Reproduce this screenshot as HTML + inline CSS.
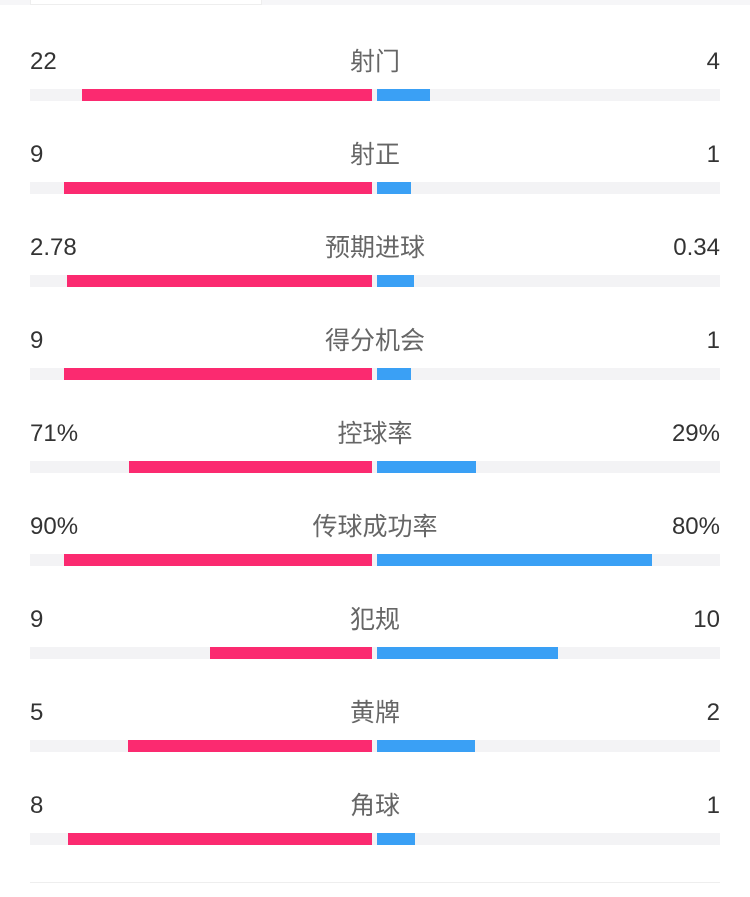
<!DOCTYPE html>
<html><head><meta charset="utf-8"><style>
body{margin:0;width:750px;height:897px;background:#fff;position:relative;overflow:hidden;font-family:"Liberation Sans","Noto Sans CJK SC",sans-serif}
.t{position:absolute;font-size:24px;line-height:26px}
.l{left:30px;color:#333}
.r{right:30px;color:#333;text-align:right}
.c{left:0;width:750px;text-align:center;color:#666;font-size:25px}
.trk{position:absolute;left:30px;width:690px;height:12px;background:#f3f3f5}
.p{position:absolute;height:12px;background:#fb2a70}
.b{position:absolute;height:12px;background:#3aa0f5}
</style></head><body>
<div style="position:absolute;left:0;top:0;width:750px;height:5px;background:#f6f6f8"></div>
<div style="position:absolute;left:30px;top:0;width:230px;height:4px;background:#fff;border:1px solid #eee;border-top:none"></div>
<div style="position:absolute;left:30px;top:882px;width:690px;height:1px;background:#eee"></div>
<div id="c"></div>
<script>
var d=[["22","射门","4",82,430],["9","射正","1",64,411],["2.78","预期进球","0.34",67,414],["9","得分机会","1",64,411],["71%","控球率","29%",129,476],["90%","传球成功率","80%",64,652],["9","犯规","10",210,558],["5","黄牌","2",128,475],["8","角球","1",68,415]];
var h="";d.forEach(function(r,i){var y=49+i*93,by=89+i*93;
h+='<div class="t l" style="top:'+y+'px">'+r[0]+'</div><div class="t c" style="top:'+y+'px">'+r[1]+'</div><div class="t r" style="top:'+y+'px">'+r[2]+'</div>';
h+='<div class="trk" style="top:'+by+'px"></div><div class="p" style="top:'+by+'px;left:'+r[3]+'px;width:'+(372-r[3])+'px"></div><div class="b" style="top:'+by+'px;left:377px;width:'+(r[4]-377)+'px"></div>';});
document.getElementById("c").innerHTML=h;
</script>
</body></html>
